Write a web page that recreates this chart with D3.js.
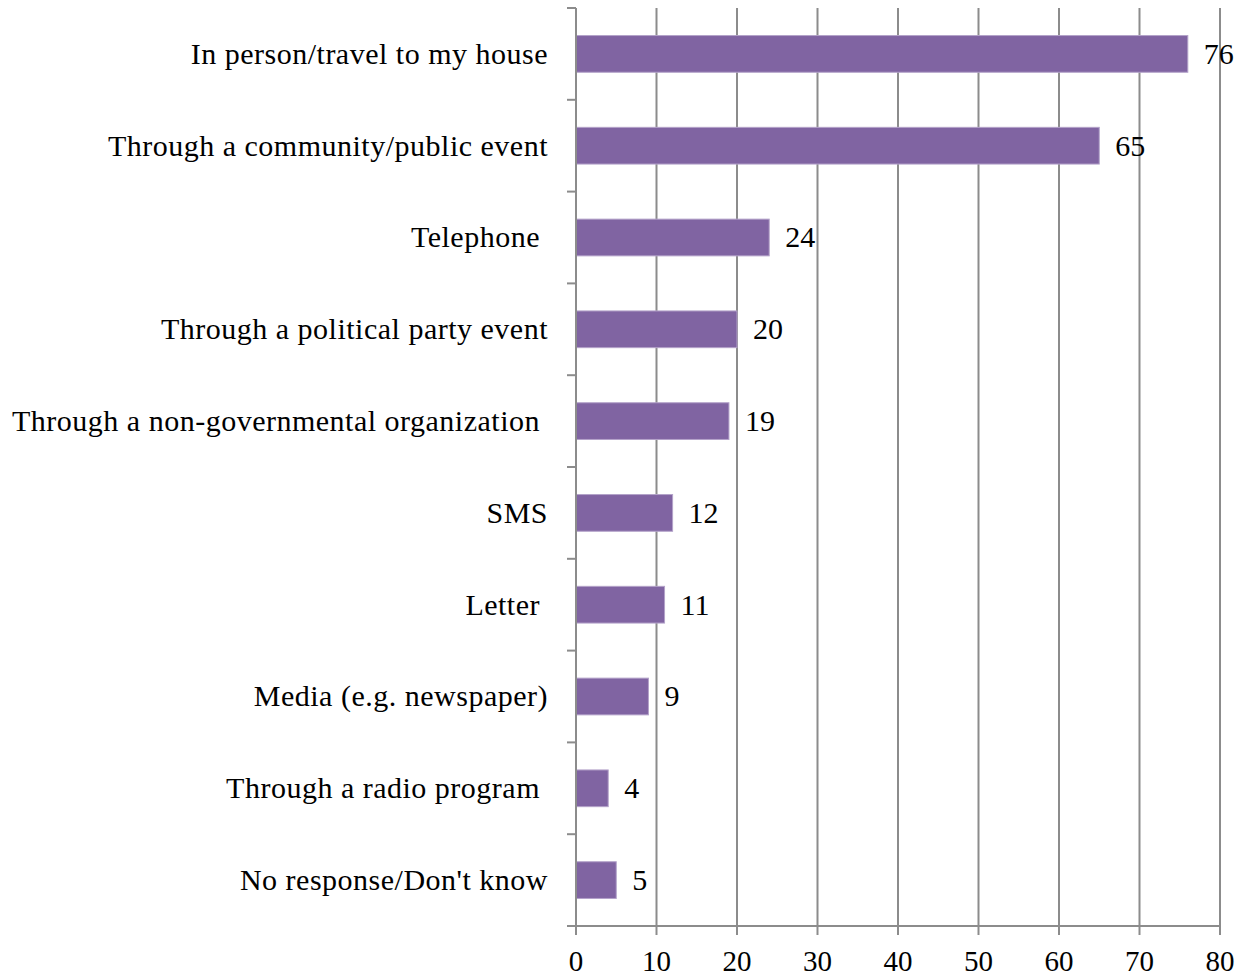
<!DOCTYPE html>
<html><head><meta charset="utf-8">
<script src="https://cdn.jsdelivr.net/npm/d3@7"></script>
<style>body{margin:0;background:#fff}svg text{font-family:"Liberation Serif","Times New Roman",serif;fill:#000;white-space:pre}</style>
</head><body><svg id="c" width="1238" height="976"></svg>
<script>
const categories = ["In person/travel to my house","Through a community/public event","Telephone ","Through a political party event","Through a non-governmental organization ","SMS","Letter ","Media (e.g. newspaper)","Through a radio program ","No response/Don't know"];
const values = [76,65,24,20,19,12,11,9,4,5];
const xTicks = [0,10,20,30,40,50,60,70,80];

(function(){
const svg = d3.select("#c");
const pL = 576, pR = 1220, pT = 8, pB = 926;
const x = d3.scaleLinear().domain([0,80]).range([pL,pR]);
const y = d3.scaleBand().domain(categories).range([pT,pB]).paddingInner(0.6).paddingOuter(0.3);

svg.append("g").selectAll("line").data(xTicks.filter(d=>d>0)).join("line")
  .attr("x1",d=>x(d)).attr("x2",d=>x(d)).attr("y1",pT).attr("y2",pB)
  .attr("stroke","#8c8c8c").attr("stroke-width",2);

svg.append("g").selectAll("rect").data(values).join("rect")
  .attr("x",x(0)).attr("y",(d,i)=>y(categories[i]))
  .attr("width",d=>x(d)-x(0)).attr("height",y.bandwidth())
  .attr("fill","#8064a2").attr("stroke","#b3a2c9").attr("stroke-width",1);

const yAxis = svg.append("g");
yAxis.append("line").attr("x1",pL).attr("x2",pL).attr("y1",pT).attr("y2",pB).attr("stroke","#8c8c8c").attr("stroke-width",2);
const step = (pB-pT)/categories.length;
yAxis.selectAll("line.t").data(d3.range(categories.length+1)).join("line").attr("class","t")
  .attr("x1",pL-9).attr("x2",pL).attr("y1",i=>pT+i*step).attr("y2",i=>pT+i*step)
  .attr("stroke","#8c8c8c").attr("stroke-width",2);
yAxis.selectAll("text").data(categories).join("text")
  .attr("x",548).attr("y",d=>y(d)+y.bandwidth()/2).attr("dy","0.33em")
  .attr("text-anchor","end").attr("font-size",30).attr("letter-spacing","0.5px").text(d=>d);

const xAxis = svg.append("g");
xAxis.append("line").attr("x1",pL-9).attr("x2",pR).attr("y1",pB).attr("y2",pB).attr("stroke","#8c8c8c").attr("stroke-width",2);
xAxis.selectAll("line.t").data(xTicks).join("line").attr("class","t")
  .attr("x1",d=>x(d)).attr("x2",d=>x(d)).attr("y1",pB).attr("y2",pB+9)
  .attr("stroke","#8c8c8c").attr("stroke-width",2);
xAxis.selectAll("text").data(xTicks).join("text")
  .attr("x",d=>x(d)).attr("y",971).attr("text-anchor","middle")
  .attr("font-size",29).text(d=>d);

svg.append("g").selectAll("text").data(values).join("text")
  .attr("x",d=>x(d)+16).attr("y",(d,i)=>y(categories[i])+y.bandwidth()/2).attr("dy","0.33em")
  .attr("font-size",30).text(d=>d);
})();
</script></body></html>
